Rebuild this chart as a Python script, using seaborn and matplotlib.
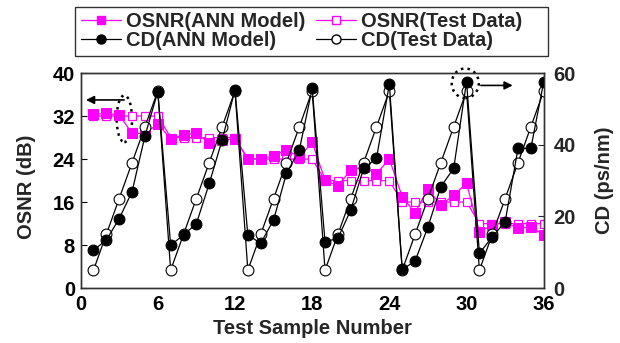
import numpy as np
import pandas as pd
import matplotlib
matplotlib.use("Agg")
import matplotlib.pyplot as plt
from matplotlib.patches import Ellipse, Rectangle
from matplotlib.lines import Line2D
import seaborn as sns

# ---- data ----
samples = list(range(1, 37))
osnr_ann = [32.3, 32.5, 32.2, 28.8, 28.8, 30.5,
            27.8, 28.5, 28.8, 27.0, 27.5, 27.8,
            24.0, 24.0, 24.6, 25.7, 24.4, 27.1,
            20.1, 19.0, 22.0, 22.5, 21.3, 24.0,
            17.0, 14.0, 18.5, 15.4, 17.3, 19.5,
            10.5, 11.7, 12.3, 11.1, 11.4, 9.9]
osnr_test = [32, 32, 32, 32, 32, 32,
             28, 28, 28, 28, 28, 28,
             24, 24, 24, 24, 24, 24,
             20, 20, 20, 20, 20, 20,
             16, 16, 16, 16, 16, 16,
             12, 12, 12, 12, 12, 12]
cd_ann = [10.6, 13.4, 19.4, 26.9, 42.4, 54.8,
          12.0, 14.8, 18.0, 29.2, 41.3, 55.3,
          14.8, 12.5, 19.0, 32.0, 38.5, 55.7,
          12.9, 13.9, 21.8, 33.4, 36.2, 56.9,
          5.2, 7.5, 17.1, 28.3, 33.4, 57.6,
          9.7, 14.3, 18.5, 39.0, 39.0, 57.6]
cd_test = [5, 15, 25, 35, 45, 55,
           5, 15, 25, 35, 45, 55,
           5, 15, 25, 35, 45, 55,
           5, 15, 25, 35, 45, 55,
           5, 15, 25, 35, 45, 55,
           5, 15, 25, 35, 45, 55]
x_ticks = [0, 6, 12, 18, 24, 30, 36]
osnr_ticks = [0, 8, 16, 24, 32, 40]
cd_ticks = [0, 20, 40, 60]
labels = ["OSNR(ANN Model)", "CD(ANN Model)", "OSNR(Test Data)", "CD(Test Data)"]

df = pd.DataFrame({"sample": samples, "osnr_ann": osnr_ann, "osnr_test": osnr_test,
                   "cd_ann": cd_ann, "cd_test": cd_test})

sns.set_style("white")
plt.rcParams["font.family"] = ["Liberation Sans", "DejaVu Sans"]
plt.rcParams["font.weight"] = "bold"
FS = 14.5
MAG = "#ff00ff"

fig = plt.figure(figsize=(6.2, 3.43), dpi=100)
ax = fig.add_axes([0.130, 0.160, 0.747, 0.627])
ax2 = ax.twinx()

# OSNR on left axis
sns.lineplot(data=df, x="sample", y="osnr_test", ax=ax, color=MAG, lw=0.9,
             marker="s", markersize=6, markerfacecolor="white", markeredgecolor=MAG,
             markeredgewidth=0.9)
sns.lineplot(data=df, x="sample", y="osnr_ann", ax=ax, color=MAG, lw=0.9,
             marker="s", markersize=6.5, markerfacecolor=MAG, markeredgecolor=MAG)
# CD on right axis
sns.lineplot(data=df, x="sample", y="cd_test", ax=ax2, color="black", lw=0.9,
             marker="o", markersize=7.8, markerfacecolor="white", markeredgecolor="black",
             markeredgewidth=0.8)
sns.lineplot(data=df, x="sample", y="cd_ann", ax=ax2, color="black", lw=0.9,
             marker="o", markersize=7.8, markerfacecolor="black", markeredgecolor="black")

ax.set_xlim(0, 36)
ax.set_ylim(0, 40)
ax2.set_ylim(0, 60)
ax.set_xticks(x_ticks)
ax.set_yticks(osnr_ticks)
ax2.set_yticks(cd_ticks)

for a in (ax, ax2):
    for s in a.spines.values():
        s.set_color("#333333")
        s.set_linewidth(1.0)
ax.tick_params(axis="both", direction="in", length=4, width=0.8, labelsize=FS, colors="black")
ax.tick_params(axis="x", pad=5)
ax.tick_params(axis="y", pad=4, right=False)
ax2.tick_params(axis="y", direction="in", length=4, width=0.8, labelsize=FS, pad=7)
for t in ax.get_xticklabels() + ax.get_yticklabels() + ax2.get_yticklabels():
    t.set_fontweight("bold")

ax.set_xlabel("Test Sample Number", fontsize=FS, fontweight="bold")
ax.set_ylabel("OSNR (dB)", fontsize=FS, fontweight="bold")
ax2.set_ylabel("CD (ps/nm)", fontsize=FS, fontweight="bold")
ax.xaxis.set_label_coords(0.5, -0.145)
ax.yaxis.set_label_coords(-0.097, 0.47)
ax2.yaxis.set_label_coords(1.110, 0.5)

# annotations
ax.add_patch(Ellipse((3.4, 31.5), 1.2, 8.7, fill=False, ls=":", lw=1.8, color="black", clip_on=False))
ax.annotate("", xy=(0.2, 35.0), xytext=(3.6, 35.0),
            arrowprops=dict(arrowstyle="-|>", color="black", lw=1.2, mutation_scale=12))
ax.add_patch(Ellipse((29.9, 38.1), 2.1, 5.5, fill=False, ls=":", lw=1.8, color="black", clip_on=False))
ax.annotate("", xy=(33.8, 37.7), xytext=(30.9, 37.7),
            arrowprops=dict(arrowstyle="-|>", color="black", lw=1.2, mutation_scale=12))

handles = [
    Line2D([], [], color=MAG, lw=0.9, marker="s", markersize=6, markerfacecolor=MAG),
    Line2D([], [], color="black", lw=0.9, marker="o", markersize=6.5, markerfacecolor="black"),
    Line2D([], [], color=MAG, lw=0.9, marker="s", markersize=5.5, markerfacecolor="white", markeredgecolor=MAG),
    Line2D([], [], color="black", lw=0.9, marker="o", markersize=6.5, markerfacecolor="white", markeredgecolor="black"),
]
leg = fig.legend(handles, labels, ncol=2, loc="upper left", bbox_to_anchor=(81.0 / 620, 1 - 12.0 / 343),
                 borderaxespad=0, frameon=False, fontsize=FS,
                 handlelength=2.0, handletextpad=0.25, columnspacing=0.5,
                 labelspacing=0.0, borderpad=0.0, prop={"weight": "bold", "size": FS})
fig.patches.append(Rectangle((75 / 620, 1 - 56 / 343), (548 - 75) / 620, (56 - 6.5) / 343,
                             transform=fig.transFigure, fill=False, ec="#333333", lw=1.0))

fig.savefig("out.png", dpi=100)
